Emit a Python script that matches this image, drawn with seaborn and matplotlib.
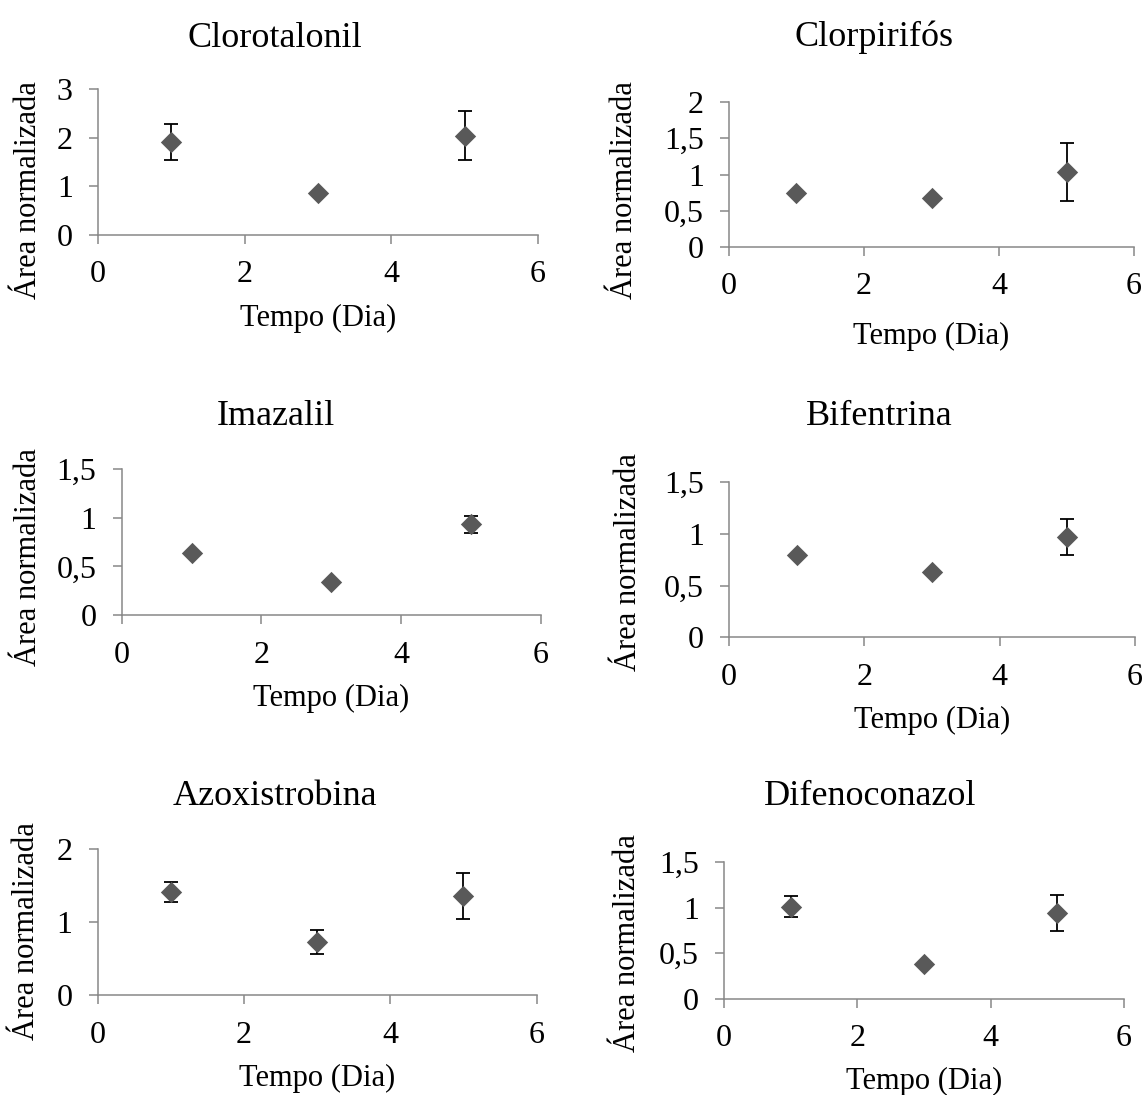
import numpy as np
import pandas as pd
import matplotlib
matplotlib.use("Agg")
import matplotlib.pyplot as plt
import seaborn as sns
from matplotlib.ticker import FuncFormatter

sns.set_theme(style="white")
plt.rcParams['font.family'] = ['Liberation Serif', 'DejaVu Serif']

# ---- data ----
days = [1, 3, 5]
titles = ["Clorotalonil", "Clorpirifós", "Imazalil", "Bifentrina", "Azoxistrobina", "Difenoconazol"]
clorotalonil = [1.91, 0.87, 2.04]
clorotalonil_err = [0.37, 0.0, 0.50]
clorpirifos = [0.75, 0.67, 1.03]
clorpirifos_err = [0.0, 0.0, 0.40]
imazalil = [0.64, 0.34, 0.93]
imazalil_err = [0.0, 0.0, 0.085]
bifentrina = [0.80, 0.635, 0.97]
bifentrina_err = [0.0, 0.0, 0.175]
azoxistrobina = [1.41, 0.73, 1.36]
azoxistrobina_err = [0.135, 0.16, 0.315]
difenoconazol = [1.01, 0.38, 0.94]
difenoconazol_err = [0.115, 0.0, 0.195]
values = [clorotalonil, clorpirifos, imazalil, bifentrina, azoxistrobina, difenoconazol]
errors = [clorotalonil_err, clorpirifos_err, imazalil_err, bifentrina_err, azoxistrobina_err, difenoconazol_err]
x_ticks = [0, 2, 4, 6]
y_ticks = [[0, 1, 2, 3], [0, 0.5, 1, 1.5, 2], [0, 0.5, 1, 1.5],
           [0, 0.5, 1, 1.5], [0, 1, 2], [0, 0.5, 1, 1.5]]
xlabel = "Tempo (Dia)"
ylabel = "Área normalizada"

# ---- layout (pixels) ----
W, H, DPI = 1144, 1095, 100
# left, right, y of 0, y of top tick
boxes = [(98, 538, 235, 89), (729, 1134, 247, 102),
         (121.6, 541, 615.3, 468.7), (729, 1135, 637.3, 482.3),
         (97.8, 536.6, 995.3, 848.7), (724, 1124, 998.5, 862.3)]
title_pos = [(275, 47), (874, 46), (276, 425), (879, 425), (275, 805), (870, 805)]
ylabel_x = [29, 624, 29, 628, 27, 627]
ylabel_y = [190, 190, 557, 562, 931, 943]
xlabel_y = [318, 336, 698, 720, 1078, 1081]

fig = plt.figure(figsize=(W / DPI, H / DPI), dpi=DPI)
spine_c = "#888888"
fmt = FuncFormatter(lambda v, p: f"{v:g}".replace(".", ","))

for i in range(6):
    l, r, y0, yt = boxes[i]
    ymax = y_ticks[i][-1]
    ax = fig.add_axes([l / W, 1 - y0 / H, (r - l) / W, (y0 - yt) / H])
    df = pd.DataFrame({"dia": days, "area": values[i], "err": errors[i]})
    ax.errorbar(df["dia"], df["area"], yerr=df["err"], fmt="none", ecolor="black",
                elinewidth=1.3, capsize=5, capthick=1.3, zorder=2)
    sns.scatterplot(data=df, x="dia", y="area", marker="D", s=118, color="#595959",
                    linewidth=0, ax=ax, zorder=3, legend=False)
    ax.set_xlim(0, 6)
    ax.set_ylim(0, ymax)
    ax.set_xticks(x_ticks)
    ax.set_yticks(y_ticks[i])
    ax.yaxis.set_major_formatter(fmt)
    ax.xaxis.set_major_formatter(fmt)
    for s in ["top", "right"]:
        ax.spines[s].set_visible(False)
    for s in ["left", "bottom"]:
        ax.spines[s].set_color(spine_c)
        ax.spines[s].set_linewidth(1.1)
    ax.tick_params(axis="both", direction="out", length=6.2, width=1.1, color=spine_c,
                   labelsize=23, labelcolor="black")
    ax.tick_params(axis="x", pad=12, bottom=True)
    ax.tick_params(axis="y", pad=12, left=True)
    ax.set_xlabel("")
    ax.set_ylabel("")
    ax.patch.set_alpha(0)
    # labels
    fig.text(((l + r) / 2) / W, 1 - xlabel_y[i] / H, xlabel, ha="center", va="center",
             fontsize=22, color="black")
    fig.text(ylabel_x[i] / W, 1 - ylabel_y[i] / H, ylabel, ha="center", va="center",
             rotation=90, fontsize=22, color="black")
    tx, ty = title_pos[i]
    fig.text(tx / W, 1 - ty / H, titles[i], ha="center", va="baseline", fontsize=26,
             color="black")

fig.savefig("out.png", dpi=DPI, facecolor="white")
